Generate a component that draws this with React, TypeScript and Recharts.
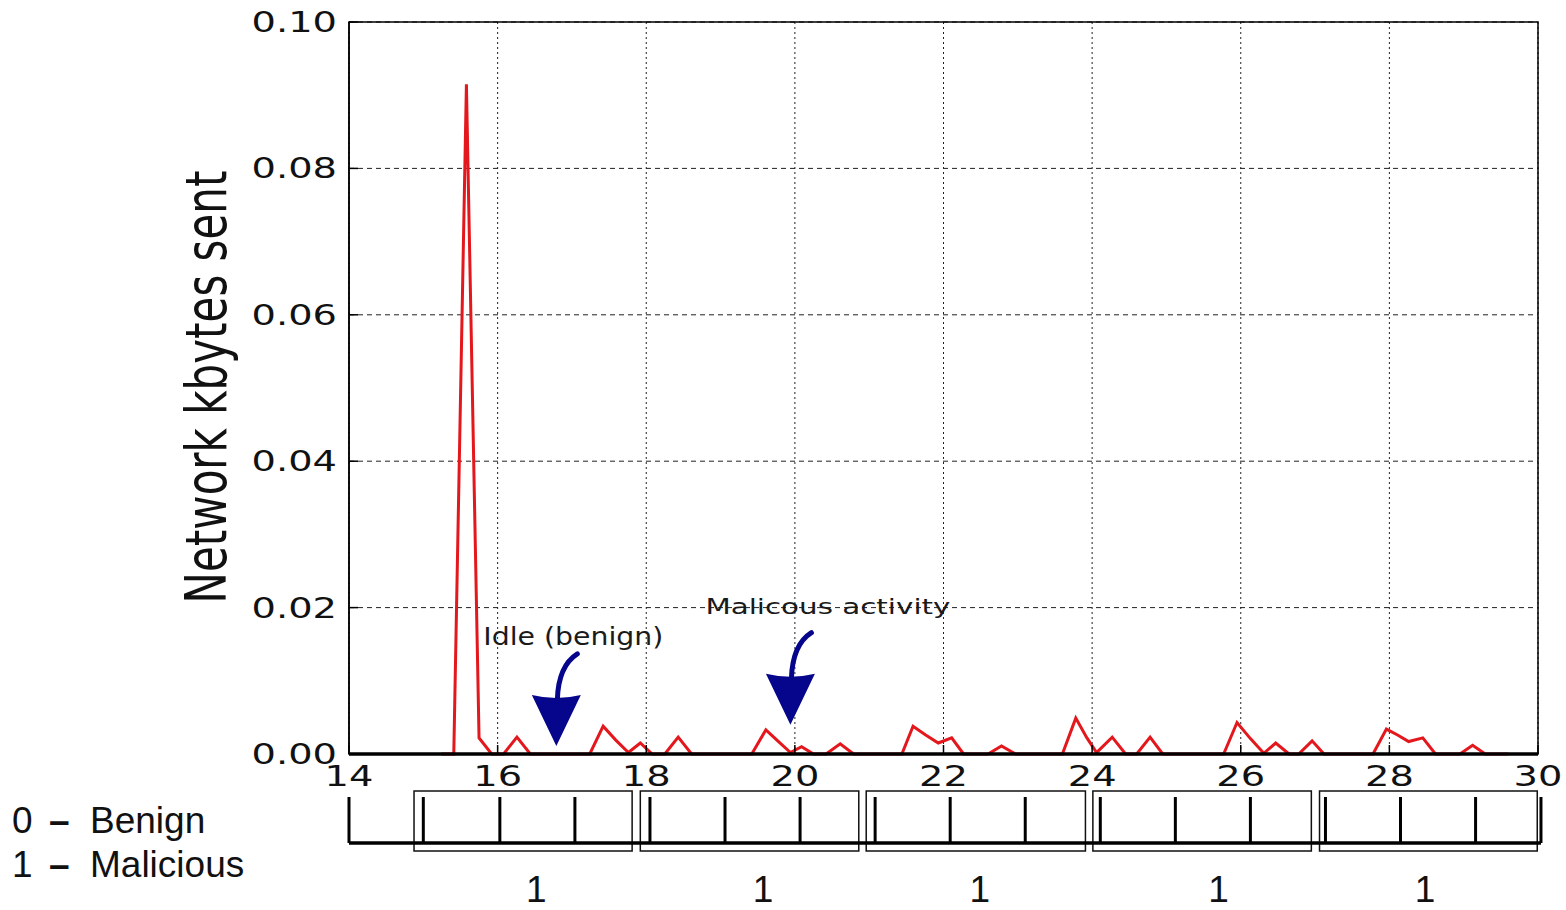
import React from 'react';
import {
  ComposedChart, Line, XAxis, YAxis, CartesianGrid, ReferenceArea, ReferenceLine, ReferenceDot,
} from 'recharts';

// time axis samples and kbytes sent at each
const times = [
  15.24, 15.41, 15.58, 15.75, 15.92, 16.08, 16.26, 16.44, 17.24, 17.42,
  17.59, 17.76, 17.92, 18.08, 18.25, 18.43, 18.61, 19.42, 19.61, 19.78,
  19.94, 20.09, 20.25, 20.42, 20.61, 20.79, 21.44, 21.59, 21.76, 21.93,
  22.11, 22.27, 22.6, 22.78, 22.97, 23.6, 23.78, 23.93, 24.06, 24.27,
  24.45, 24.6, 24.78, 24.95, 25.77, 25.95, 26.13, 26.31, 26.47, 26.65,
  26.78, 26.96, 27.12, 27.78, 27.96, 28.11, 28.26, 28.45, 28.62, 28.95,
  29.12, 29.29, 29.6,
];
const kbytesSent = [
  0, 0, 0.0915, 0.0022, 0, 0, 0.0023, 0, 0, 0.0038,
  0.0019, 0.0002, 0.0015, 0, 0, 0.0023, 0, 0, 0.0033, 0.0017,
  0.0002, 0.001, 0, 0, 0.0014, 0, 0, 0.0038, 0.0026, 0.0015,
  0.0022, 0, 0, 0.0011, 0, 0, 0.0049, 0.0022, 0.0002, 0.0023,
  0, 0, 0.0023, 0, 0, 0.0043, 0.0021, 0.0001, 0.0015, 0,
  0, 0.0018, 0, 0, 0.0034, 0.0026, 0.0017, 0.0022, 0, 0,
  0.0012, 0, 0,
];

const xTicks = [14, 16, 18, 20, 22, 24, 26, 28, 30];
const yTicks = [0, 0.02, 0.04, 0.06, 0.08, 0.1];

// labelled windows under the time axis
const windowStarts = [14.875, 17.92, 20.96, 24.01, 27.06];
const windowEnds = [17.81, 20.86, 23.91, 26.95, 29.99];
const windowLabels = ['1', '1', '1', '1', '1'];
const windowLabelTimes = [16.52, 19.57, 22.49, 25.7, 28.48];
const bracketTicks = [14, 15.0, 16.03, 17.04, 18.05, 19.06, 20.07, 21.08, 22.09, 23.1, 24.11, 25.12, 26.13, 27.14, 28.15, 29.16, 30.04];

const annotationTexts = ['Idle (benign)', 'Malicous activity'];
const annotationTimes = [16.79, 19.94];
const annotationValues = [0.0011, 0.004];

const legendCodes = ['0', '1'];
const legendNames = ['Benign', 'Malicious'];

const W = 1566;
const H = 910;
const PLOT = { left: 349, top: 22, right: 1538, bottom: 754 };
const Y_MAX = 0.1;
const SX = 1.37; // the original figure is stretched sideways
const NAVY = '#06068c';
const RED = '#e3171c';

// pixel row below the axis -> value on the y scale
const yAt = (py: number) => ((PLOT.bottom - py) / (PLOT.bottom - PLOT.top)) * Y_MAX;

const ANNOT_LAYOUT = [
  { dx: -73, dy: -101, w: 180, size: 24 },
  { dx: -85, dy: -111, w: 245, size: 21 },
];

const chartData = times.map((t, i) => ({ t, v: kbytesSent[i] }));

const XTick = ({ x, payload }: any) => (
  <g>
    <line x1={x} x2={x} y1={PLOT.bottom} y2={PLOT.bottom - 9} stroke="#000" strokeWidth={1.5} />
    <text
      transform={`translate(${x},${PLOT.bottom + 32}) scale(${SX},1)`}
      textAnchor="middle"
      fontFamily="DejaVu Sans"
      fontSize={28}
      fill="#111"
    >
      {payload.value}
    </text>
  </g>
);

const YTick = ({ y, payload }: any) => (
  <g>
    <line x1={PLOT.left} x2={PLOT.left + 9} y1={y} y2={y} stroke="#000" strokeWidth={1.5} />
    <text
      transform={`translate(${PLOT.left - 12},${y + 10}) scale(${SX},1)`}
      textAnchor="end"
      fontFamily="DejaVu Sans"
      fontSize={28}
      fill="#111"
    >
      {Number(payload.value).toFixed(2)}
    </text>
  </g>
);

const Arrow = ({ cx, cy, i }: any) => {
  const lay = ANNOT_LAYOUT[i];
  return (
    <g>
      <path
        d={`M ${cx + 21} ${cy - 92} Q ${cx + 2} ${cy - 80} ${cx + 1} ${cy - 46}`}
        stroke={NAVY}
        strokeWidth={5}
        fill="none"
        strokeLinecap="round"
      />
      <path
        d={`M ${cx} ${cy} L ${cx - 24.5} ${cy - 51} Q ${cx} ${cy - 45} ${cx + 24.5} ${cy - 51} Z`}
        fill={NAVY}
      />
      <text
        x={cx + lay.dx}
        y={cy + lay.dy}
        textLength={lay.w}
        lengthAdjust="spacingAndGlyphs"
        fontFamily="DejaVu Sans"
        fontSize={lay.size}
        fill="#1a1a1a"
      >
        {annotationTexts[i]}
      </text>
    </g>
  );
};

const YTitle = () => (
  <text
    transform={`translate(226,387) scale(${SX},1) rotate(-90)`}
    textAnchor="middle"
    fontFamily="DejaVu Sans"
    fontSize={42}
    fill="#111"
  >
    Network kbytes sent
  </text>
);

export default function App() {
  return (
    <div style={{ position: 'absolute', left: 0, top: 0, width: W, height: H, background: '#fff' }}>
      <ComposedChart
        width={W}
        height={H}
        data={chartData}
        margin={{ top: PLOT.top, right: W - PLOT.right, bottom: H - PLOT.bottom - 30, left: PLOT.left - 30 }}
      >
        <CartesianGrid horizontal vertical={false} stroke="#222" strokeDasharray="5 4" />
        <CartesianGrid horizontal={false} vertical stroke="#222" strokeDasharray="2 3" />
        <XAxis
          dataKey="t"
          type="number"
          domain={[14, 30]}
          ticks={xTicks}
          height={30}
          tickSize={0}
          tickMargin={0}
          tickLine={false}
          axisLine={{ stroke: '#000', strokeWidth: 2 }}
          tick={<XTick />}
          interval={0}
        />
        <YAxis
          type="number"
          domain={[0, Y_MAX]}
          ticks={yTicks}
          width={30}
          tickSize={0}
          tickMargin={0}
          tickLine={false}
          axisLine={{ stroke: '#000', strokeWidth: 1.5 }}
          tick={<YTick />}
          interval={0}
          label={<YTitle />}
        />
        <Line
          dataKey="v"
          type="linear"
          stroke={RED}
          strokeWidth={3}
          dot={false}
          isAnimationActive={false}
        />
        {/* plot frame, drawn over the line so its zero runs stay hidden */}
        <ReferenceArea
          x1={14}
          x2={30}
          y1={0}
          y2={Y_MAX}
          fill="none"
          stroke="#000"
          strokeWidth={1.5}
          ifOverflow="visible"
          zIndex={1000}
        />
        <ReferenceLine y={0} stroke="#000" strokeWidth={3.5} ifOverflow="visible" zIndex={1000} />
        {annotationTimes.map((t, i) => (
          <ReferenceDot
            key={`a${i}`}
            x={t}
            y={annotationValues[i]}
            r={0}
            ifOverflow="visible"
            shape={(p: any) => <Arrow cx={p.cx} cy={p.cy} i={i} />}
          />
        ))}
        {/* window diagram under the axis */}
        {windowStarts.map((s, i) => (
          <ReferenceArea
            key={`w${i}`}
            x1={s}
            x2={windowEnds[i]}
            y1={yAt(851)}
            y2={yAt(791)}
            fill="none"
            stroke="#111"
            strokeWidth={1.5}
            ifOverflow="visible"
          />
        ))}
        <ReferenceLine
          segment={[{ x: 14, y: yAt(843) }, { x: bracketTicks[bracketTicks.length - 1], y: yAt(843) }]}
          stroke="#000"
          strokeWidth={3.5}
          ifOverflow="visible"
        />
        {bracketTicks.map((t) => (
          <ReferenceLine
            key={`b${t}`}
            segment={[{ x: t, y: yAt(797) }, { x: t, y: yAt(843) }]}
            stroke="#000"
            strokeWidth={3}
            ifOverflow="visible"
          />
        ))}
        {windowLabelTimes.map((t, i) => (
          <ReferenceDot
            key={`l${i}`}
            x={t}
            y={yAt(889)}
            r={0}
            fill="none"
            stroke="none"
            ifOverflow="visible"
            label={{
              value: windowLabels[i],
              position: 'center',
              fontFamily: 'Liberation Sans',
              fontSize: 37,
              fill: '#111',
            }}
          />
        ))}
      </ComposedChart>
      <svg width={260} height={120} style={{ position: 'absolute', left: 0, top: 790 }}>
        {legendCodes.map((c, i) => (
          <text key={c} y={43 + i * 44} fontFamily="Liberation Sans" fontSize={37} fill="#111">
            <tspan x={12}>{c}</tspan>
            <tspan x={49} fontWeight="bold">–</tspan>
            <tspan x={90}>{legendNames[i]}</tspan>
          </text>
        ))}
      </svg>
    </div>
  );
}
